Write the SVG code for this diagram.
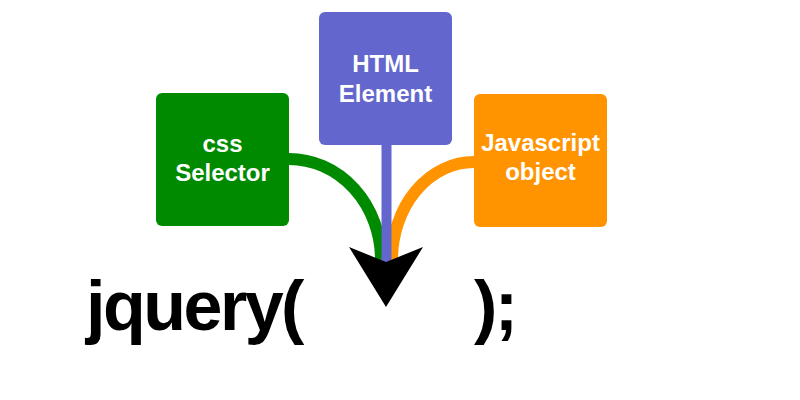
<svg xmlns="http://www.w3.org/2000/svg" width="800" height="400" viewBox="0 0 800 400">
<style>
.box{stroke:none}
.lbl{font-family:"Liberation Sans",Arial,sans-serif;font-weight:bold;font-size:24px;fill:#ffffff;text-anchor:middle}
.code{font-family:"Liberation Sans",Arial,sans-serif;font-weight:bold;font-size:70px;fill:#000000;letter-spacing:-2.5px}
.wire{fill:none;stroke-width:12}
</style>
<rect width="800" height="400" fill="#ffffff"/>
<g id="connectors">
<path class="wire" stroke="#008a00" d="M289,159 A92,101 0 0 1 381,260"/>
<path class="wire" stroke="#ff9400" d="M474,162 A82,98 0 0 0 392,260"/>
<line x1="386.5" y1="145" x2="386.5" y2="262" stroke="#6366cc" stroke-width="10"/>
<polygon points="349,247 386,262 423,247 386,307" fill="#000000"/>
</g>
<g id="css-selector">
<rect class="box" x="156" y="93" width="133" height="133" rx="6" fill="#008a00"/>
<text class="lbl" x="222.5" y="152">css</text>
<text class="lbl" x="222.5" y="181">Selector</text>
</g>
<g id="html-element">
<rect class="box" x="319" y="12" width="133" height="133" rx="6" fill="#6366cc"/>
<text class="lbl" x="385.5" y="72">HTML</text>
<text class="lbl" x="385.5" y="102">Element</text>
</g>
<g id="javascript-object">
<rect class="box" x="474" y="94" width="133" height="133" rx="6" fill="#ff9400"/>
<text class="lbl" x="540.5" y="151">Javascript</text>
<text class="lbl" x="540.5" y="180">object</text>
</g>
<g id="code">
<text class="code" x="86" y="330">jquery(</text>
<text class="code" x="474" y="330">);</text>
</g>
</svg>
